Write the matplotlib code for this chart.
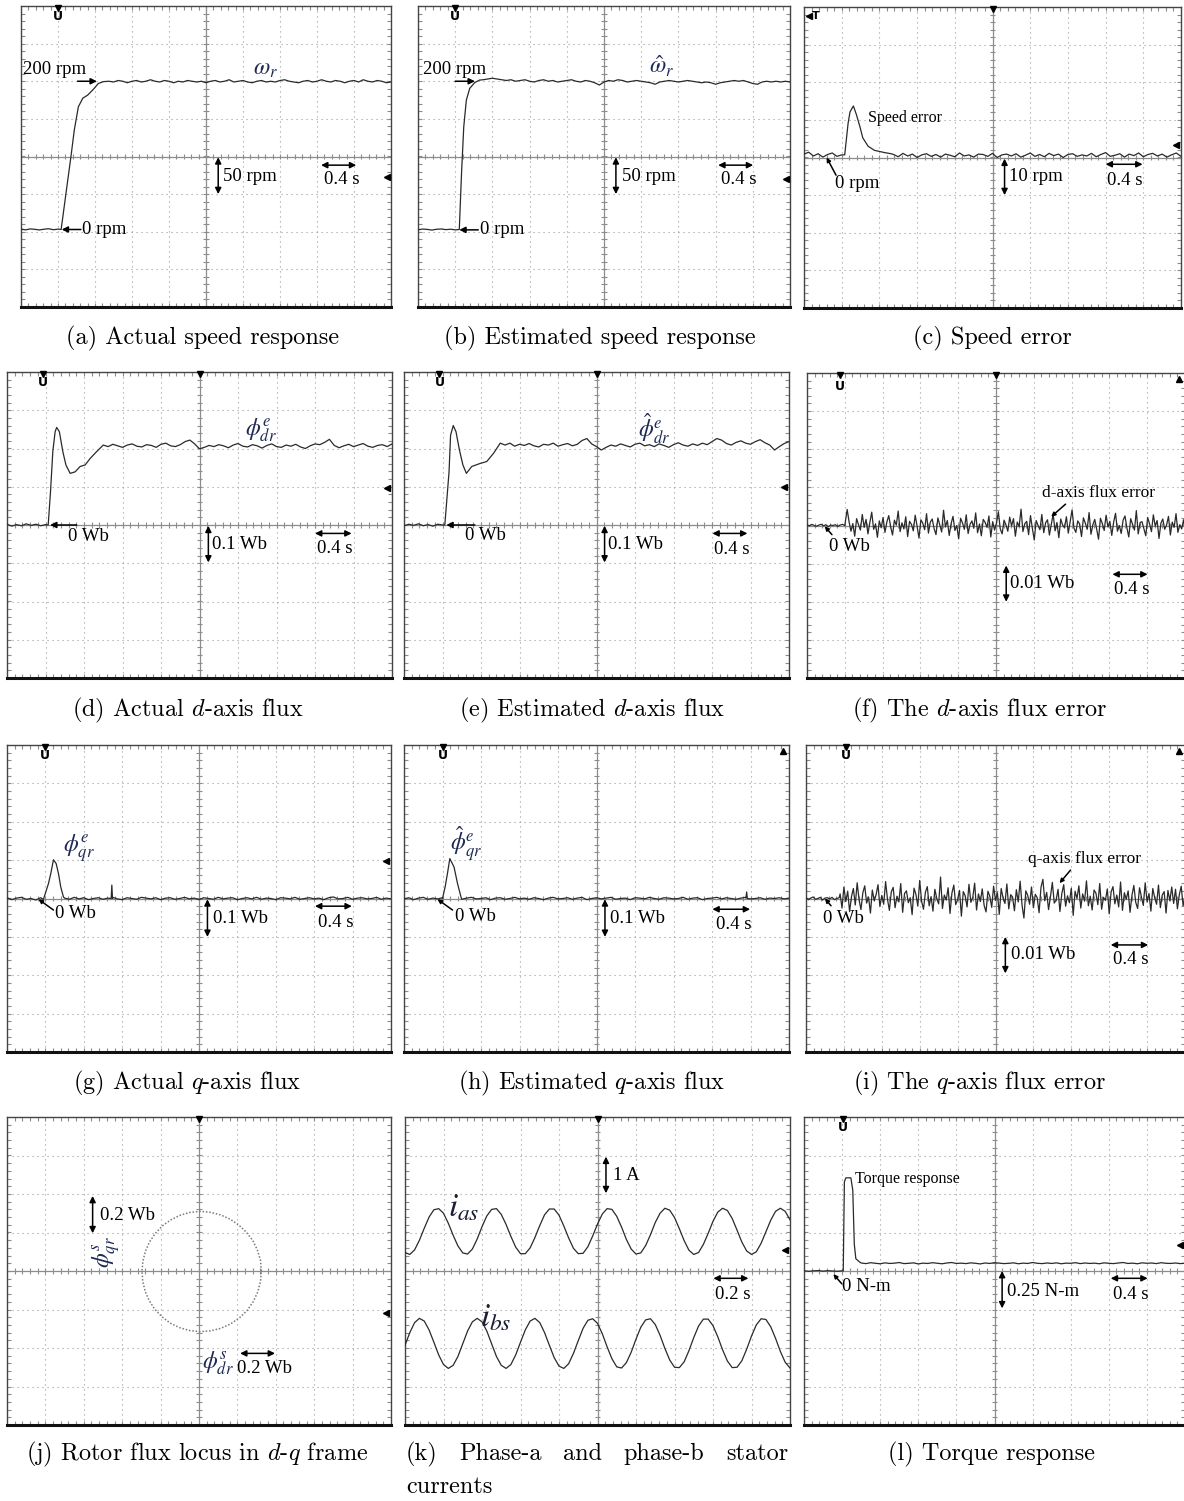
import matplotlib
matplotlib.use('Agg')
import matplotlib.pyplot as plt
import numpy as np
from matplotlib.collections import LineCollection

W, H = 1184, 1501
SERIF = ['Liberation Serif', 'DejaVu Serif']
TRACE = '#2a2a2a'
MATHC = '#1e2a55'
plt.rcParams['font.family'] = SERIF

# ---------------- data read off the scope screens ----------------
# (a) actual speed [rpm], 0.4 s/div, 50 rpm/div
a_pre = [0.5, -0.5, 0.8, 0.2, -0.6, 0.4, 1.0, -0.3, 0.5]
a_t_rise = [0.434, 0.496, 0.54, 0.576, 0.62, 0.668, 0.72, 0.784, 0.836, 0.892]
a_v_rise = [0, 57, 97, 132, 163, 174.5, 178.5, 186.5, 194, 196.5]
a_hold = [197, 196, 198, 197, 195, 197, 198, 196, 197, 199, 197, 196, 198, 197, 195, 197,
          196, 198, 197, 196, 197, 195, 197, 198, 196, 197, 199, 196, 197, 198, 196, 195,
          197, 198, 196, 197, 196, 198, 199, 197, 196, 195, 197, 198, 196, 197, 199, 197,
          196, 198, 197, 195, 197, 198, 196, 199, 197, 196, 198, 197, 195, 196]

# (b) estimated speed [rpm]
b_pre = [-0.4, 0.6, 0.1, -0.8, 0.3, 0.7, -0.2, 0.4, -0.5]
b_t_rise = [0.444, 0.468, 0.492, 0.52, 0.556, 0.608, 0.66]
b_v_rise = [0, 74.5, 136.5, 172, 187.5, 195, 198.5]
b_hold = [199, 200, 201, 200, 199, 198, 199, 197, 198, 199, 197, 196, 198, 199, 197, 198,
          196, 197, 198, 199, 197, 196, 198, 197, 195, 192, 196, 198, 197, 199, 198, 196,
          197, 198, 197, 196, 195, 193, 196, 197, 198, 197, 196, 197, 198, 197, 196, 195,
          196, 195, 193, 195, 196, 197, 198, 197, 198, 196, 194, 193, 196, 197, 196, 197,
          196, 197, 196]

# (c) speed error [rpm], 10 rpm/div
c_pre = [0.3, 0.8, -0.2, 0.4, -0.5, 0.2, 0.6, -0.3, 0.1]
c_t_rise = [0.432, 0.468, 0.488, 0.524, 0.556, 0.592, 0.624, 0.68, 0.748, 0.856, 0.924]
c_v_rise = [0.1, 8.5, 11.5, 13.1, 10.8, 7.7, 4.6, 2.4, 1.3, 0.7, 0.4]
c_hold = [0.2, -0.4, 0.5, -0.2, 0.3, -0.6, 0.1, 0.4, -0.3, 0.2, -0.5, 0.3, 0.0, -0.4, 0.6,
          -0.2, 0.1, -0.5, 0.3, 0.2, -0.3, 0.5, -0.6, 0.1, 0.3, -0.2, 0.4, -0.5, 0.0, 0.6,
          -0.3, 0.2, -0.4, 0.5, -0.1, 0.3, -0.6, 0.2, 0.4, -0.3, 0.1, -0.2, 0.5, -0.4, 0.2,
          0.7, -0.3, 0.0, 0.4, -0.5, 0.3, -0.1, 0.6, -0.4, 0.2, 0.5, -0.2, 0.3, -0.5, 0.1,
          0.6, -0.3]

# (d) actual d-axis flux [Wb], 0.1 Wb/div
d_pre = [0.002, -0.003, 0.001, -0.002, 0.003, -0.001, 0.002, -0.002, 0.001]
d_t_rise = [0.428, 0.452, 0.476, 0.50, 0.516, 0.544, 0.58, 0.612, 0.656, 0.708, 0.76,
            0.812, 0.864, 0.932, 1.0]
d_v_rise = [0.0, 0.087, 0.192, 0.244, 0.255, 0.244, 0.192, 0.157, 0.135, 0.139, 0.153,
            0.157, 0.174, 0.192, 0.209]
d_hold = [0.205, 0.211, 0.207, 0.203, 0.209, 0.212, 0.206, 0.204, 0.210, 0.208, 0.203,
          0.211, 0.214, 0.207, 0.205, 0.210, 0.218, 0.222, 0.212, 0.199, 0.203, 0.208,
          0.205, 0.210, 0.207, 0.202, 0.209, 0.213, 0.206, 0.204, 0.210, 0.207, 0.201,
          0.208, 0.212, 0.205, 0.203, 0.209, 0.206, 0.211, 0.204, 0.200, 0.207, 0.212,
          0.210, 0.216, 0.224, 0.208, 0.202, 0.207, 0.211, 0.205, 0.209, 0.213, 0.206,
          0.203, 0.208, 0.210, 0.205, 0.212]

# (e) estimated d-axis flux [Wb]
e_pre = [-0.002, 0.002, -0.001, 0.003, -0.002, 0.001, -0.003, 0.002, 0.000]
e_t_rise = [0.424, 0.468, 0.484, 0.512, 0.54, 0.576, 0.612, 0.648, 0.704, 0.792, 0.86,
            0.932, 1.0]
e_v_rise = [0.0, 0.139, 0.235, 0.26, 0.244, 0.196, 0.157, 0.135, 0.153, 0.161, 0.166,
            0.188, 0.214]
e_hold = [0.209, 0.214, 0.206, 0.211, 0.208, 0.213, 0.207, 0.204, 0.211, 0.209, 0.214,
          0.206, 0.210, 0.213, 0.207, 0.211, 0.221, 0.226, 0.212, 0.205, 0.196, 0.203,
          0.209, 0.206, 0.212, 0.208, 0.204, 0.211, 0.214, 0.207, 0.210, 0.205, 0.212,
          0.208, 0.203, 0.210, 0.215, 0.209, 0.206, 0.212, 0.208, 0.214, 0.210, 0.218,
          0.226, 0.222, 0.213, 0.209, 0.216, 0.220, 0.214, 0.211, 0.218, 0.223, 0.215,
          0.209, 0.196, 0.205, 0.213, 0.218]

# (f) d-axis flux error [mWb], 10 mWb/div
f_pre = [0.2, -0.1, 0.3, 0.0, -0.2, 0.1, 0.3, -0.1, 0.2, -0.3, 0.1, 0.0, 0.2, -0.2, 0.1,
         0.3, 0.0]
f_noise = [4.2, 1.0, -1.5, 0.5, -2.8, 1.8, 0.2, -1.2, 2.9, -0.5,
           1.6, -2.2, 0.8, 3.5, -1.0, 0.4, -3.1, 1.2, -0.6, 2.1,
           -1.8, 0.9, 2.6, -0.3, -2.5, 1.4, 0.1, 3.8, -1.6, 0.7,
           -0.9, 2.3, -2.9, 1.1, 0.3, -1.4, 2.7, -0.2, -3.3, 1.5,
           0.6, -1.1, 3.1, -2.0, 0.9, 1.7, -0.8, -2.4, 2.0, 0.2,
           -1.7, 4.0, -0.4, 1.3, -2.6, 0.5, 2.4, -1.3, 0.0, -3.5,
           1.9, 0.7, -1.0, 2.8, -2.1, 0.3, 1.2, -0.7, 3.3, -1.9,
           0.4, -2.7, 1.6, 0.8, -0.5, 2.5, -3.0, 1.0, -1.2, 0.6,
           3.6, -0.9, -2.2, 1.4, 0.2, -1.5, 2.2, -0.1, 1.8, -2.8,
           0.9, -0.3, 4.3, -1.6, 0.5, 1.1, -2.4, 2.6, -0.8, -3.8,
           1.3, 0.0, -1.1, 2.9, -1.9, 0.7, 1.5, -2.5, 0.3, 3.0,
           -1.4, 0.8, -3.2, 1.7, 0.1, -0.6, 2.3, -2.0, 1.0, 4.1,
           -0.7, -1.8, 1.2, 0.4, -2.9, 2.0, 0.6, -1.0, 3.4, -2.3,
           0.2, 1.6, -0.9, -3.6, 1.9, 0.5, -1.3, 2.7, -0.4, 1.1,
           -2.6, 0.9, 3.2, -1.5, 0.0, -2.1, 1.4, 2.5, -0.6, -3.0,
           1.8, 0.3, -1.2, 3.9, -2.2, 0.8, 1.0, -0.8, -2.7, 2.1,
           0.4, -1.6, 2.8, -0.2, 1.3, -3.4, 0.6, 1.7, -1.0, 0.1,
           2.4, -2.5, 0.9, -0.5, 3.1, -1.8, 0.2, -0.9, 1.5, -2.0]

# (g) actual q-axis flux [Wb], 0.1 Wb/div
g_pre = [0.002, -0.003, 0.001, 0.003, -0.002, 0.0, -0.004, 0.002]
g_t_rise = [0.38, 0.432, 0.456, 0.484, 0.512, 0.536, 0.56, 0.588]
g_v_rise = [-0.002, 0.039, 0.065, 0.101, 0.091, 0.065, 0.030, 0.004]
g_hold = [0.001, -0.002, 0.003, -0.001, 0.002, -0.003, 0.000, 0.002, -0.002, 0.001, 0.003,
          -0.001, -0.003, 0.002, 0.000, -0.002, 0.003, 0.001, -0.001, 0.002, -0.003, 0.001,
          0.002, -0.002, 0.000, 0.003, -0.001, 0.001, -0.003, 0.002, 0.000, -0.002, 0.003,
          -0.001, 0.001, 0.002, -0.003, 0.000, 0.002, -0.001, 0.003, -0.002, 0.001, 0.000,
          -0.003, 0.002, 0.001, -0.001, 0.003, -0.002, 0.000, 0.002, -0.001, 0.001, -0.003,
          0.002, 0.004, -0.001, 0.000, 0.003, -0.002, 0.001, 0.002, -0.001, 0.000, 0.003,
          -0.002, 0.001, -0.001]
g_spike_t = [1.085, 1.092, 1.099]
g_spike_v = [0.0, 0.035, 0.0]

# (h) estimated q-axis flux [Wb]
h_pre = [-0.001, 0.002, -0.003, 0.001, 0.003, -0.002, 0.001, -0.001, 0.002]
h_t_rise = [0.40, 0.428, 0.452, 0.476, 0.52, 0.556, 0.592]
h_v_rise = [0.0, 0.031, 0.066, 0.104, 0.082, 0.039, 0.004]
h_hold = [-0.002, 0.001, 0.003, -0.001, 0.000, 0.002, -0.003, 0.001, 0.002, -0.002, 0.000,
          0.003, -0.001, 0.001, -0.002, 0.002, 0.000, -0.003, 0.001, 0.003, -0.001, 0.000,
          0.002, -0.002, 0.001, 0.003, -0.003, 0.000, 0.002, -0.001, 0.001, 0.003, -0.002,
          0.000, 0.001, -0.003, 0.002, 0.001, -0.001, 0.003, 0.000, -0.002, 0.002, 0.001,
          -0.001, 0.000, 0.003, -0.002, 0.001, 0.002, -0.003, 0.000, 0.001, 0.003, -0.001,
          0.002, 0.000, -0.002, 0.001, 0.003, -0.001, 0.000, 0.002, -0.002, 0.001, 0.000,
          0.002, -0.001, 0.001]
h_spike_t = [3.553, 3.56, 3.567]
h_spike_v = [0.001, 0.017, 0.0]

# (i) q-axis flux error [mWb], 10 mWb/div
i_pre = [0.2, -0.3, 0.1, 0.4, -0.2, 0.0, 0.3, -0.4, 0.1, 0.2, -0.1, 0.3, -0.3, 0.0, 0.2]
i_noise = [1.2, -2.5, 3.0, -0.8, 1.9, -3.4, 0.5, 2.6, -1.7, 4.1,
           -0.3, -2.9, 1.5, 3.3, -1.2, 0.4, -3.8, 2.2, -0.6, 1.0,
           3.6, -2.1, 0.8, -1.5, 4.4, -0.2, -3.1, 1.7, 2.9, -2.4,
           0.6, -0.9, 3.9, -3.6, 1.3, 2.0, -1.1, 0.2, -4.2, 2.7,
           1.1, -2.0, 4.7, -0.7, -2.8, 1.6, 3.1, -1.9, 0.5, -3.3,
           2.4, 0.0, -1.4, 5.6, -2.6, 0.9, -0.4, 2.8, -3.9, 1.4,
           3.5, -1.6, -0.3, 2.1, -4.6, 1.8, 0.7, -2.2, 3.7, -1.0,
           0.3, 4.0, -3.0, 1.2, -0.8, 2.5, -1.8, -3.5, 1.9, 0.6,
           -2.3, 3.2, -0.5, 1.5, -4.1, 2.6, 0.1, -1.3, 3.8, -2.7,
           1.0, 0.4, -3.2, 2.3, -0.9, 4.5, -1.7, -5.1, 2.0, 0.8,
           -1.5, 3.0, -2.4, 1.1, 0.2, -3.7, 2.9, 5.0, -0.6, 1.6,
           -2.9, 0.5, 4.2, -1.2, -0.4, 2.4, -3.4, 1.3, 3.6, -2.0,
           0.7, -1.1, 2.7, -4.4, 1.9, 0.0, 3.3, -2.5, 1.2, -0.7,
           4.6, -1.9, 0.6, -3.0, 2.2, 1.4, -1.6, 3.9, -2.8, 0.3,
           -0.5, 2.5, -4.0, 1.7, 3.1, -1.4, 0.9, -2.2, 4.3, -3.1,
           1.5, -0.2, 2.0, -3.6, 0.8, 3.4, -1.0, -2.6, 2.8, 0.4,
           -1.8, 4.1, -0.9, 1.3, -3.3, 2.6, 0.2, -1.5, 3.5, -2.4,
           0.9, 1.8, -3.8, 2.1, -0.6, 3.0, -1.3, 2.4, -2.7, 1.0,
           3.2, -1.9, 0.5, -2.1]

# (j) rotor flux locus [Wb], 0.2 Wb/div on both axes
j_phi_dr = [0.325, 0.320, 0.304, 0.280, 0.246, 0.206, 0.161, 0.111, 0.059, 0.005,
            -0.049, -0.100, -0.148, -0.191, -0.228, -0.257, -0.279, -0.292, -0.297,
            -0.293, -0.281, -0.260, -0.231, -0.194, -0.151, -0.102, -0.050, 0.005,
            0.060, 0.113, 0.164, 0.210, 0.250, 0.282, 0.306, 0.320, 0.325]
j_phi_qr = [0.0, 0.056, 0.109, 0.159, 0.202, 0.240, 0.270, 0.292, 0.305, 0.310,
            0.304, 0.289, 0.265, 0.234, 0.195, 0.152, 0.103, 0.052, 0.0,
            -0.053, -0.104, -0.153, -0.198, -0.237, -0.270, -0.294, -0.309, -0.315,
            -0.311, -0.298, -0.275, -0.244, -0.206, -0.160, -0.109, -0.056, 0.0]

# (k) stator currents [A], 0.2 s/div, 1 A/div, sampled every 25 ms
k_ias = [0.48, 0.43, 0.55, 0.80, 1.11, 1.40, 1.59, 1.62, 1.50, 1.24, 0.93, 0.65, 0.47,
         0.44, 0.57, 0.83, 1.15, 1.43, 1.60, 1.62, 1.47, 1.21, 0.90, 0.62, 0.45, 0.45,
         0.60, 0.87, 1.18, 1.46, 1.61, 1.61, 1.45, 1.17, 0.86, 0.59, 0.45, 0.46, 0.63,
         0.91, 1.22, 1.48, 1.62, 1.60, 1.42, 1.14, 0.82, 0.57, 0.44, 0.47, 0.66, 0.94,
         1.26, 1.50, 1.63, 1.58, 1.39, 1.10, 0.79, 0.54, 0.43, 0.48, 0.69, 0.98, 1.29,
         1.53, 1.63, 1.57, 1.36, 1.06, 0.75, 0.52, 0.43, 0.50, 0.72, 1.02, 1.32, 1.55,
         1.63, 1.55, 1.33]
k_ibs = [-1.93, -1.60, -1.34, -1.23, -1.30, -1.53, -1.85, -2.18, -2.43, -2.53, -2.45,
         -2.22, -1.89, -1.56, -1.32, -1.23, -1.32, -1.56, -1.89, -2.22, -2.45, -2.53,
         -2.43, -2.18, -1.85, -1.53, -1.30, -1.23, -1.34, -1.60, -1.93, -2.25, -2.47,
         -2.53, -2.41, -2.14, -1.81, -1.49, -1.28, -1.24, -1.36, -1.63, -1.97, -2.28,
         -2.49, -2.52, -2.38, -2.11, -1.77, -1.46, -1.27, -1.24, -1.39, -1.67, -2.01,
         -2.31, -2.50, -2.51, -2.36, -2.07, -1.73, -1.43, -1.25, -1.25, -1.42, -1.71,
         -2.05, -2.34, -2.51, -2.50, -2.33, -2.03, -1.69, -1.40, -1.24, -1.26, -1.45,
         -1.75, -2.09, -2.37, -2.52]

# (l) torque [N-m], 0.25 N-m/div
l_pre = [0.002, -0.002, 0.001, 0.003, -0.001, 0.002, 0.000, -0.002, 0.001]
l_t_rise = [0.412, 0.424, 0.44, 0.492, 0.512, 0.528, 0.544, 0.58]
l_v_rise = [0.0, 0.58, 0.605, 0.605, 0.525, 0.175, 0.08, 0.06]
l_hold = [0.052, 0.048, 0.054, 0.050, 0.047, 0.053, 0.049, 0.051, 0.055, 0.048, 0.050,
          0.053, 0.046, 0.051, 0.049, 0.054, 0.050, 0.047, 0.052, 0.055, 0.049, 0.051,
          0.048, 0.053, 0.050, 0.046, 0.052, 0.049, 0.054, 0.051, 0.048, 0.050, 0.053,
          0.047, 0.051, 0.049, 0.055, 0.050, 0.048, 0.052, 0.049, 0.053, 0.047, 0.051,
          0.050, 0.054, 0.048, 0.052, 0.049, 0.051, 0.047, 0.053, 0.050, 0.048, 0.052,
          0.055, 0.049, 0.051, 0.047, 0.053, 0.050, 0.052, 0.048, 0.054, 0.050, 0.049,
          0.052, 0.048, 0.051]

captions = ['(a) Actual speed response', '(b) Estimated speed response', '(c) Speed error',
            '(d) Actual $d$-axis flux', '(e) Estimated $d$-axis flux',
            '(f) The $d$-axis flux error', '(g) Actual $q$-axis flux',
            '(h) Estimated $q$-axis flux', '(i) The $q$-axis flux error',
            '(j) Rotor flux locus in $d$-$q$ frame', '(l) Torque response']
k_caption_words = ['(k)', 'Phase-a', 'and', 'phase-b', 'stator']


def series(pre, t_rise, v_rise, hold, t_hold, dt_pre=0.05, dt_hold=0.05):
    t = np.concatenate([np.arange(len(pre)) * dt_pre, t_rise,
                        t_hold + np.arange(len(hold)) * dt_hold])
    v = np.concatenate([pre, v_rise, hold])
    return t, v


def add_spike(t, v, ts, vs):
    t = np.concatenate([t, ts])
    v = np.concatenate([v, vs])
    o = np.argsort(t, kind='stable')
    return t[o], v[o]


def panel(l, t, r, b):
    return fig.add_axes([l / W, 1 - b / H, (r - l) / W, (b - t) / H])


def scope(ax):
    ax.set_xlim(0, 10)
    ax.set_ylim(-4, 4)
    ax.set_xticks([])
    ax.set_yticks([])
    for x in range(1, 10):
        if x != 5:
            ax.axvline(x, color='#9a9a9a', lw=0.8, ls=(0, (1, 3.5)), zorder=1)
    for y in range(-3, 4):
        if y != 0:
            ax.axhline(y, color='#9a9a9a', lw=0.8, ls=(0, (1, 3.5)), zorder=1)
    ax.axvline(5, color='#8c8c8c', lw=0.9, zorder=1)
    ax.axhline(0, color='#8c8c8c', lw=0.9, zorder=1)
    segs = []
    for x in np.arange(0.2, 9.9, 0.2):
        segs += [[(x, -0.07), (x, 0.07)], [(x, -4), (x, -3.9)], [(x, 4), (x, 3.9)]]
    for y in np.arange(-3.8, 3.9, 0.2):
        segs += [[(4.93, y), (5.07, y)], [(0, y), (0.1, y)], [(10, y), (9.9, y)]]
    ax.add_collection(LineCollection(segs, colors='#8c8c8c', lw=0.8, zorder=1))
    for s in ax.spines.values():
        s.set_color('#444444')
        s.set_linewidth(1.0)
    ax.spines['bottom'].set_color('#111111')
    ax.spines['bottom'].set_linewidth(2.2)


def trace(ax, t, v, sx, sy, cy=0.0, **kw):
    ax.plot(np.asarray(t) / sx, (np.asarray(v) - cy) / sy, color=TRACE, lw=0.9,
            zorder=3, **kw)


def txt(ax, x, y, s, size=13.5, ha='left', **kw):
    ax.text(x, y, s, fontsize=size, family=SERIF, ha=ha, va='center', zorder=5, **kw)


def math(ax, x, y, s, size=17, ha='center', color=MATHC, **kw):
    ax.text(x, y, s, fontsize=size, math_fontfamily='stix', color=color, ha=ha,
            va='center', zorder=5, **kw)


def arrow(ax, x0, y0, x1, y1, style='-|>', ms=9):
    ax.annotate('', xy=(x1, y1), xytext=(x0, y0), zorder=5,
                arrowprops=dict(arrowstyle=style, color='k', lw=1.1, shrinkA=0,
                                shrinkB=0, mutation_scale=ms))


def dbl(ax, x0, y0, x1, y1):
    arrow(ax, x0, y0, x1, y1, style='<|-|>', ms=9)


def umark(ax, x, y=3.72):
    ax.text(x, y, 'U', fontsize=9, fontweight='bold', family='DejaVu Sans',
            ha='center', va='center', zorder=6)
    ax.plot([x], [3.96], marker='v', ms=4, color='k', zorder=6, clip_on=False)


def topmark(ax):
    ax.plot([5], [3.96], marker='v', ms=5, color='k', zorder=6, clip_on=False)


def rmark(ax, y):
    ax.plot([9.88], [y], marker='<', ms=4, color='k', zorder=6, clip_on=False)


def cmark(ax):
    ax.plot([9.85], [3.85], marker='^', ms=4, color='k', zorder=6, clip_on=False)


fig = plt.figure(figsize=(W / 100, H / 100), dpi=100)

# ---- (a)
ax = panel(21, 6, 391, 307)
scope(ax)
t, v = series(a_pre, a_t_rise, a_v_rise, a_hold, 0.95)
trace(ax, t, v, 0.4, 50, 97)
arrow(ax, 1.53, 2.0, 2.05, 2.0)
txt(ax, 0.05, 2.3, '200 rpm')
math(ax, 6.6, 2.3, r'$\omega_r$')
arrow(ax, 1.62, -1.94, 1.1, -1.94)
txt(ax, 1.64, -1.94, '0 rpm')
dbl(ax, 5.33, -0.02, 5.33, -1.0)
txt(ax, 5.46, -0.54, '50 rpm')
dbl(ax, 8.11, -0.23, 9.06, -0.23)
txt(ax, 8.2, -0.62, '0.4 s')
umark(ax, 0.99)
rmark(ax, -0.54)

# ---- (b)
ax = panel(418, 6, 790, 307)
scope(ax)
t, v = series(b_pre, b_t_rise, b_v_rise, b_hold, 0.70)
trace(ax, t, v, 0.4, 50, 97)
arrow(ax, 1.0, 2.0, 1.53, 2.0)
txt(ax, 0.14, 2.32, '200 rpm')
math(ax, 6.55, 2.39, r'$\hat{\omega}_r$')
arrow(ax, 1.62, -1.95, 1.11, -1.95)
txt(ax, 1.66, -1.95, '0 rpm')
dbl(ax, 5.32, -0.02, 5.32, -1.0)
txt(ax, 5.48, -0.54, '50 rpm')
dbl(ax, 8.07, -0.23, 9.01, -0.23)
txt(ax, 8.15, -0.6, '0.4 s')
umark(ax, 1.0)
rmark(ax, -0.6)

# ---- (c)
ax = panel(804, 7, 1181, 308)
scope(ax)
t, v = series(c_pre, c_t_rise, c_v_rise, c_hold, 0.95)
trace(ax, t, v, 0.4, 10, -0.6)
txt(ax, 1.70, 1.04, 'Speed error', size=11.5)
arrow(ax, 0.85, -0.47, 0.6, -0.0, ms=6)
txt(ax, 0.82, -0.7, '0 rpm')
dbl(ax, 5.32, -0.03, 5.32, -1.0)
txt(ax, 5.45, -0.51, '10 rpm')
dbl(ax, 8.0, -0.18, 8.98, -0.18)
txt(ax, 8.05, -0.62, '0.4 s')
ax.plot([0.12], [3.76], marker='<', ms=4, color='k', zorder=6)
ax.text(0.3, 3.76, 'T', fontsize=8, fontweight='bold', family='DejaVu Sans',
        ha='center', va='center', zorder=6)
topmark(ax)
rmark(ax, 0.33)

# ---- (d)
ax = panel(7, 372, 392, 678)
scope(ax)
t, v = series(d_pre, d_t_rise, d_v_rise, d_hold, 1.05)
trace(ax, t, v, 0.4, 0.1)
math(ax, 6.6, 2.48, r'$\phi^e_{dr}$')
arrow(ax, 1.81, 0.0, 1.12, 0.0)
txt(ax, 1.59, -0.31, '0 Wb')
dbl(ax, 5.23, -0.02, 5.23, -0.98)
txt(ax, 5.32, -0.52, '0.1 Wb')
dbl(ax, 8.0, -0.22, 8.95, -0.22)
txt(ax, 8.05, -0.62, '0.4 s')
umark(ax, 0.94)
topmark(ax)
rmark(ax, 0.98)

# ---- (e)
ax = panel(404, 372, 789, 678)
scope(ax)
t, v = series(e_pre, e_t_rise, e_v_rise, e_hold, 1.05)
trace(ax, t, v, 0.4, 0.1)
math(ax, 6.5, 2.53, r'$\hat{\phi}^e_{dr}$')
arrow(ax, 1.84, 0.0, 1.1, 0.0)
txt(ax, 1.58, -0.28, '0 Wb')
dbl(ax, 5.21, -0.02, 5.21, -0.98)
txt(ax, 5.30, -0.52, '0.1 Wb')
dbl(ax, 8.01, -0.22, 8.92, -0.22)
txt(ax, 8.05, -0.64, '0.4 s')
umark(ax, 0.92)
topmark(ax)
rmark(ax, 1.0)

# ---- (f)
ax = panel(807, 373, 1185, 678)
scope(ax)
t, v = series(f_pre, [], [], f_noise, 0.425, dt_pre=0.025, dt_hold=0.02)
trace(ax, t, v, 0.4, 10)
txt(ax, 6.22, 0.85, 'd-axis flux error', size=12.5)
arrow(ax, 6.84, 0.56, 6.46, 0.23, ms=6)
txt(ax, 0.57, -0.56, '0 Wb')
arrow(ax, 0.66, -0.24, 0.47, -0.02, ms=6)
dbl(ax, 5.27, -1.05, 5.27, -2.0)
txt(ax, 5.37, -1.52, '0.01 Wb')
dbl(ax, 8.08, -1.28, 9.01, -1.28)
txt(ax, 8.12, -1.67, '0.4 s')
umark(ax, 0.88, 3.64)
topmark(ax)
cmark(ax)

# ---- (g)
ax = panel(7, 745, 391, 1052)
scope(ax)
t, v = series(g_pre, g_t_rise, g_v_rise, g_hold, 0.60)
t, v = add_spike(t, v, g_spike_t, g_spike_v)
trace(ax, t, v, 0.4, 0.1)
math(ax, 1.45, 1.3, r'$\phi^e_{qr}$', ha='left')
txt(ax, 1.25, -0.4, '0 Wb')
arrow(ax, 1.21, -0.3, 0.82, -0.02, ms=6)
dbl(ax, 5.22, -0.02, 5.22, -1.0)
txt(ax, 5.37, -0.52, '0.1 Wb')
dbl(ax, 8.02, -0.2, 8.98, -0.2)
txt(ax, 8.1, -0.63, '0.4 s')
umark(ax, 0.99)
rmark(ax, 0.98)

# ---- (h)
ax = panel(404, 745, 789, 1052)
scope(ax)
t, v = series(h_pre, h_t_rise, h_v_rise, h_hold, 0.60)
t, v = add_spike(t, v, h_spike_t, h_spike_v)
trace(ax, t, v, 0.4, 0.1)
math(ax, 1.2, 1.4, r'$\hat{\phi}^e_{qr}$', ha='left')
txt(ax, 1.32, -0.47, '0 Wb')
arrow(ax, 1.26, -0.3, 0.87, -0.02, ms=6)
dbl(ax, 5.22, -0.02, 5.22, -1.0)
txt(ax, 5.35, -0.53, '0.1 Wb')
dbl(ax, 8.01, -0.28, 8.99, -0.28)
txt(ax, 8.1, -0.67, '0.4 s')
umark(ax, 1.0)
cmark(ax)

# ---- (i)
ax = panel(806, 745, 1185, 1052)
scope(ax)
t, v = series(i_pre, [], [], i_noise, 0.36, dt_pre=0.025, dt_hold=0.02)
trace(ax, t, v, 0.4, 10)
txt(ax, 5.86, 1.02, 'q-axis flux error', size=12.5)
arrow(ax, 6.98, 0.74, 6.69, 0.4, ms=6)
txt(ax, 0.44, -0.52, '0 Wb')
arrow(ax, 0.66, -0.19, 0.5, 0.0, ms=6)
dbl(ax, 5.26, -1.0, 5.26, -1.95)
txt(ax, 5.42, -1.47, '0.01 Wb')
dbl(ax, 8.04, -1.21, 9.03, -1.21)
txt(ax, 8.1, -1.6, '0.4 s')
umark(ax, 1.06)
cmark(ax)

# ---- (j)
ax = panel(7, 1117, 391, 1425)
scope(ax)
ax.plot(5 + np.array(j_phi_dr) / 0.2, np.array(j_phi_qr) / 0.2, color='#7a7a7a',
        lw=1.1, ls=(0, (1, 1.2)), zorder=3)
dbl(ax, 2.23, 1.95, 2.23, 0.98)
txt(ax, 2.42, 1.45, '0.2 Wb')
math(ax, 2.6, 0.5, r'$\phi^s_{qr}$', rotation=90)
math(ax, 5.5, -2.4, r'$\phi^s_{dr}$')
dbl(ax, 6.07, -2.14, 6.98, -2.14)
txt(ax, 5.98, -2.53, '0.2 Wb')
topmark(ax)
rmark(ax, -1.1)

# ---- (k)
ax = panel(405, 1117, 790, 1425)
scope(ax)
tk = np.arange(len(k_ias)) * 0.025
trace(ax, tk, k_ias, 0.2, 1.0)
trace(ax, tk, k_ibs, 0.2, 1.0)
dbl(ax, 5.22, 2.97, 5.22, 2.02)
txt(ax, 5.41, 2.49, '1 A')
math(ax, 1.12, 1.62, r'$i_{as}$', size=24, ha='left', color='#1a1f33')
math(ax, 1.94, -1.22, r'$i_{bs}$', size=24, ha='left', color='#1a1f33')
dbl(ax, 8.01, -0.19, 8.92, -0.19)
txt(ax, 8.05, -0.62, '0.2 s')
topmark(ax)
rmark(ax, 0.55)

# ---- (l)
ax = panel(804, 1117, 1185, 1425)
scope(ax)
t, v = series(l_pre, l_t_rise, l_v_rise, l_hold, 0.60)
trace(ax, t, v, 0.4, 0.25)
txt(ax, 1.34, 2.39, 'Torque response', size=11.5)
txt(ax, 0.99, -0.41, '0 N-m')
arrow(ax, 0.99, -0.33, 0.77, -0.08, ms=6)
dbl(ax, 5.2, 0.0, 5.2, -0.97)
txt(ax, 5.33, -0.54, '0.25 N-m')
dbl(ax, 8.05, -0.19, 9.02, -0.19)
txt(ax, 8.1, -0.62, '0.4 s')
umark(ax, 1.03)
rmark(ax, 0.67)

# ---- captions
CAP = 17.5
cap_pos = [(203, 338), (600, 338), (992, 338), (188, 710), (592, 710), (980, 710),
           (187, 1083), (592, 1083), (980, 1083), (197, 1454), (992, 1454)]
for s, (cx, cy) in zip(captions, cap_pos):
    fig.text(cx / W, 1 - cy / H, s, ha='center', va='center', fontsize=CAP,
             family='cmr10', math_fontfamily='cm')
for s, x in zip(k_caption_words, [406, 459, 563, 623, 726]):
    fig.text(x / W, 1 - 1454 / H, s, ha='left', va='center', fontsize=CAP,
             family='cmr10')
fig.text(406 / W, 1 - 1487 / H, 'currents', ha='left', va='center', fontsize=CAP,
         family='cmr10')

fig.savefig('out.png', dpi=100)
